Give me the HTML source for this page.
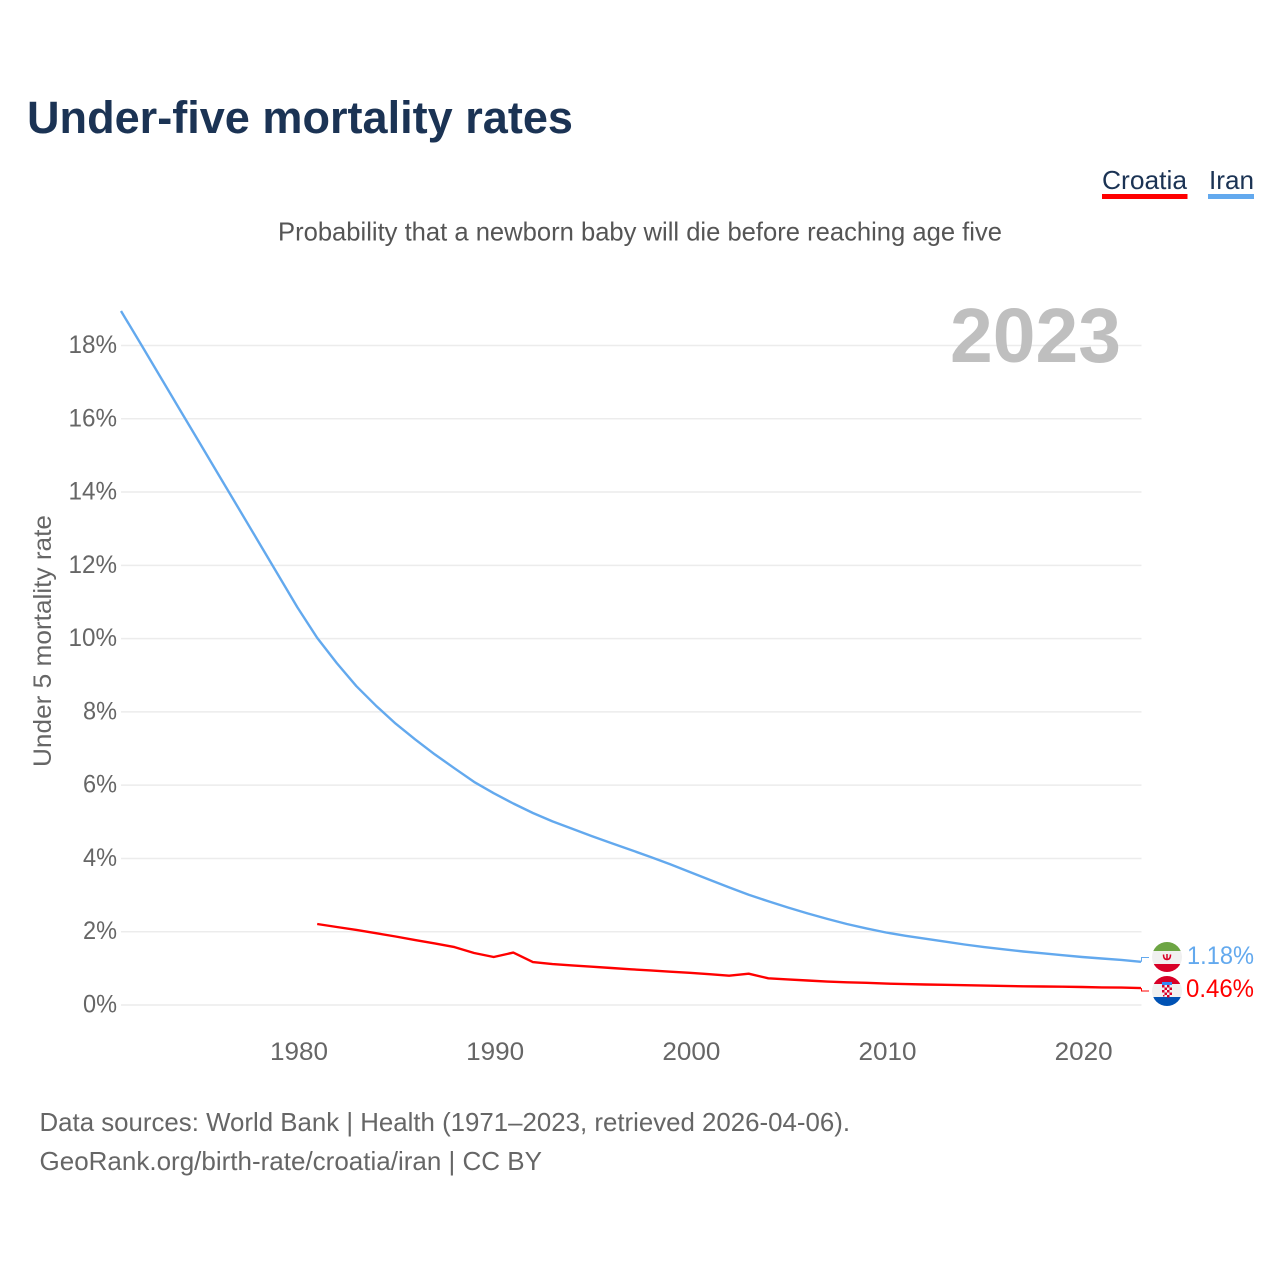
<!DOCTYPE html>
<html lang="en">
<head>
<meta charset="utf-8">
<title>Under-five mortality rates</title>
<style>
html,body{margin:0;padding:0;background:#fff;width:1280px;height:1280px;overflow:hidden}
svg{display:block}
text{font-family:"Liberation Sans",sans-serif}
</style>
</head>
<body>
<svg id="chart" width="1280" height="1280" viewBox="0 0 1280 1280" xmlns="http://www.w3.org/2000/svg">
  <text x="27" y="133" font-size="45" font-weight="700" fill="#1b3354" textLength="546" lengthAdjust="spacingAndGlyphs">Under-five mortality rates</text>
  <text x="1102" y="189" font-size="26" fill="#1b3354" textLength="85" lengthAdjust="spacingAndGlyphs">Croatia</text>
  <rect x="1102" y="194" width="85.5" height="5" fill="#ff0000"/>
  <text x="1209" y="189" font-size="26" fill="#1b3354" textLength="45" lengthAdjust="spacingAndGlyphs">Iran</text>
  <rect x="1208" y="194" width="46" height="5" fill="#63a9ee"/>
  <text x="278" y="240.500" font-size="26" fill="#555" textLength="724" lengthAdjust="spacingAndGlyphs">Probability that a newborn baby will die before reaching age five</text>
  <g id="grid"></g>
  <text x="950" y="362" font-size="77" font-weight="700" fill="#bfbfbf" textLength="171" lengthAdjust="spacingAndGlyphs">2023</text>
  <g id="yticks"></g>
  <g id="xticks"></g>
  <text transform="translate(51,767) rotate(-90)" font-size="25" fill="#666" textLength="252" lengthAdjust="spacingAndGlyphs">Under 5 mortality rate</text>
  <path id="line-iran" fill="none" stroke="#63a9ee" stroke-width="2.4" stroke-linejoin="round"/>
  <path id="line-croatia" fill="none" stroke="#ff0000" stroke-width="2.4" stroke-linejoin="round"/>
  <path id="connector-iran" fill="none" stroke="#63a9ee" stroke-width="1"/>
  <path id="connector-croatia" fill="none" stroke="#ff0000" stroke-width="1"/>

  <g>
    <clipPath id="clip-iran"><circle cx="1167" cy="957" r="15"/></clipPath>
    <g clip-path="url(#clip-iran)">
      <rect x="1152" y="942" width="30" height="9" fill="#6da544"/>
      <rect x="1152" y="951" width="30" height="13" fill="#f0f0f0"/>
      <rect x="1152" y="964" width="30" height="8" fill="#d80027"/>
      <path d="M1163.5 954.5 q0 5 3.5 5 q3.500 0 3.500-5 M1167 954v6" fill="none" stroke="#d80027" stroke-width="1.500"/>
    </g>
  </g>
  <g>
    <clipPath id="clip-croatia"><circle cx="1167" cy="991" r="15"/></clipPath>
    <g clip-path="url(#clip-croatia)">
      <rect x="1152" y="976" width="30" height="8" fill="#d80027"/>
      <rect x="1152" y="984" width="30" height="13" fill="#f0f0f0"/>
      <rect x="1152" y="997" width="30" height="9" fill="#0052b4"/>
      <rect x="1162" y="982" width="10" height="3" fill="#338af3"/>
      <rect x="1162" y="985" width="10" height="12" fill="#f0f0f0"/>
      <g fill="#d80027">
        <rect x="1162" y="985" width="2.500" height="2.500"/><rect x="1167" y="985" width="2.500" height="2.500"/>
        <rect x="1164.500" y="987.500" width="2.500" height="2.500"/><rect x="1169.500" y="987.500" width="2.500" height="2.500"/>
        <rect x="1162" y="990" width="2.500" height="2.500"/><rect x="1167" y="990" width="2.500" height="2.500"/>
        <rect x="1164.500" y="992.500" width="2.500" height="2.500"/><rect x="1169.500" y="992.500" width="2.500" height="2.500"/>
        <rect x="1167" y="995" width="2.500" height="2.500"/><rect x="1163" y="995" width="1.500" height="1.500"/>
      </g>
    </g>
  </g>
  <text id="label-iran" x="1187" y="964" font-size="25" fill="#63a9ee" textLength="67" lengthAdjust="spacingAndGlyphs"></text>
  <text id="label-croatia" x="1186" y="997" font-size="25" fill="#ff0000" textLength="68" lengthAdjust="spacingAndGlyphs"></text>

  <text x="39.500" y="1131" font-size="26" fill="#666" textLength="810.500" lengthAdjust="spacingAndGlyphs">Data sources: World Bank | Health (1971–2023, retrieved 2026-04-06).</text>
  <text x="39.500" y="1170" font-size="26" fill="#666" textLength="502.500" lengthAdjust="spacingAndGlyphs">GeoRank.org/birth-rate/croatia/iran | CC BY</text>
</svg>
<script>
const yTickValues = [0, 2, 4, 6, 8, 10, 12, 14, 16, 18];
const xTickYears = [1980, 1990, 2000, 2010, 2020];
const iranStartYear = 1971;
const iranValues = [18.94,18.05,17.15,16.25,15.35,14.45,13.55,12.65,11.75,10.85,
  10.02,9.33,8.7,8.17,7.68,7.25,6.84,6.46,6.09,5.78,
  5.5,5.24,5.01,4.81,4.61,4.42,4.23,4.04,3.84,3.63,
  3.42,3.21,3.01,2.83,2.66,2.5,2.35,2.21,2.09,1.98,
  1.89,1.81,1.73,1.65,1.58,1.52,1.46,1.41,1.36,1.31,
  1.27,1.23,1.18];
const croatiaStartYear = 1981;
const croatiaValues = [2.21,2.13,2.05,1.96,1.87,1.77,1.68,1.58,1.42,1.31,
  1.43,1.17,1.115,1.08,1.045,1.01,0.975,0.945,0.91,0.88,
  0.84,0.8,0.855,0.73,0.7,0.67,0.64,0.62,0.605,0.585,
  0.57,0.56,0.55,0.54,0.53,0.52,0.51,0.505,0.5,0.49,
  0.48,0.475,0.46];
const iranLabel = "1.18%";
const croatiaLabel = "0.46%";

const NS = "http://www.w3.org/2000/svg";
const xScale = function (year) { return 121 + (year - 1971) * (1020 / 52); };
const yScale = function (v) { return 1005 - v * 36.64; };

const grid = document.getElementById("grid");
const yticks = document.getElementById("yticks");
yTickValues.forEach(function (v) {
  const line = document.createElementNS(NS, "line");
  
  
  line.setAttribute("x1", 121);
  line.setAttribute("x2", 1141.5);
  line.setAttribute("y1", yScale(v));
  line.setAttribute("y2", yScale(v));
  line.setAttribute("stroke", "#ececec");
  line.setAttribute("stroke-width", "1.5");
  grid.appendChild(line);

  const t = document.createElementNS(NS, "text");
  
  
  t.setAttribute("x", 117);
  t.setAttribute("y", yScale(v) + 7.5);
  t.setAttribute("text-anchor", "end");
  t.setAttribute("font-size", "25");
  t.setAttribute("fill", "#666");
  t.setAttribute("textLength", String(v).length * 14.5 + 19.5);
  t.setAttribute("lengthAdjust", "spacingAndGlyphs");
  t.textContent = v + "%";
  yticks.appendChild(t);
});

const xticks = document.getElementById("xticks");
xTickYears.forEach(function (y) {
  const t = document.createElementNS(NS, "text");
  
  
  t.setAttribute("x", xScale(y) - 27.5);
  t.setAttribute("y", 1060);
  t.setAttribute("font-size", "25");
  t.setAttribute("fill", "#666");
  t.setAttribute("textLength", "58");
  t.setAttribute("lengthAdjust", "spacingAndGlyphs");
  t.textContent = y;
  xticks.appendChild(t);
});

function linePath(values, startYear) {
  return values.map(function (v, i) {
    return (i ? "L" : "M") + xScale(startYear + i).toFixed(1) + " " + yScale(v).toFixed(1);
  }).join("");
}
document.getElementById("line-iran").setAttribute("d", linePath(iranValues, iranStartYear));
document.getElementById("line-croatia").setAttribute("d", linePath(croatiaValues, croatiaStartYear));

const iranEnd = yScale(iranValues[iranValues.length - 1]);
const croatiaEnd = yScale(croatiaValues[croatiaValues.length - 1]);
document.getElementById("connector-iran").setAttribute("d", "M1141.5 " + iranEnd + "L1141.5 957.5L1149 957.5");
document.getElementById("connector-croatia").setAttribute("d", "M1141.5 " + croatiaEnd + "L1141.5 991L1149 991");
document.getElementById("label-iran").textContent = iranLabel;
document.getElementById("label-croatia").textContent = croatiaLabel;
</script>
</body>
</html>
